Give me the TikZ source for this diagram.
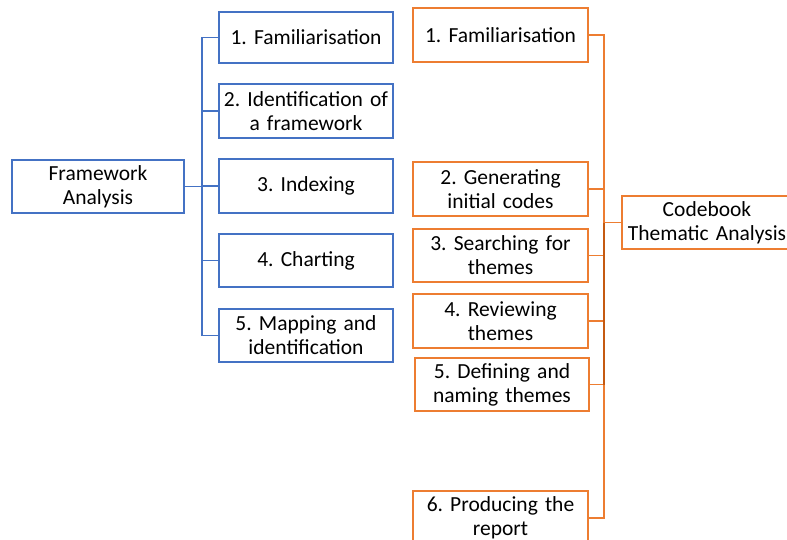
\documentclass[tikz,border=0pt]{standalone}
\usepackage{fontspec}
\setmainfont{Carlito}
\frenchspacing
\definecolor{fwblue}{HTML}{4472C4}
\definecolor{taorange}{HTML}{ED7D31}
\definecolor{tadark}{HTML}{C55A11}
\tikzset{
    fwbox/.style={draw=fwblue, line width=1.3pt, minimum width=174pt, minimum height=53pt, text width=172pt, align=center, inner sep=0pt, font=\fontsize{21.5}{24}\selectfont},
    tabox/.style={draw=taorange, line width=1.3pt, minimum width=175pt, minimum height=53pt, text width=173pt, align=center, inner sep=0pt, font=\fontsize{21.5}{24}\selectfont},
    fwline/.style={draw=fwblue, line width=1.2pt},
    taline/.style={draw=taorange, line width=1.2pt}
}

\begin{document}
\begin{tikzpicture}[x=1pt, y=-1pt]
    \pgfmathsetmacro{\fwx}{306}
    \pgfmathsetmacro{\tax}{500.5}
    \useasboundingbox (0,0) rectangle (787,539);
    % framework analysis side
    \node[fwbox, minimum width=172pt] (fw) at (98,186.5) {Framework\\Analysis};
    \node[fwbox, minimum height=51pt] (b1) at (\fwx,37.5) {1. Familiarisation};
    \node[fwbox, minimum height=54pt] (b2) at (\fwx,111) {2. Identification of\\a framework};
    \node[fwbox, minimum height=54pt] (b3) at (\fwx,186) {3. Indexing};
    \node[fwbox] (b4) at (\fwx,260.5) {4. Charting};
    \node[fwbox] (b5) at (\fwx,335.5) {5. Mapping and\\identification};
    \coordinate (bt) at (202,186.5);
    \foreach \i in {1,...,5}
        \draw[fwline] (fw.east) -- (bt) |- (b\i.west);
    % codebook thematic analysis side
    \node[tabox, minimum width=170pt, text width=170pt] (cb) at (707,222.5) {Codebook\\Thematic Analysis};
    \node[tabox, minimum height=54pt] (o1) at (\tax,35) {1. Familiarisation};
    \node[tabox, minimum height=54pt] (o2) at (\tax,189) {2. Generating\\initial codes};
    \node[tabox] (o3) at (\tax,255.5) {3. Searching for\\themes};
    \node[tabox, minimum height=54pt] (o4) at (\tax,321) {4. Reviewing\\themes};
    \node[tabox, minimum width=174pt] (o5) at (502,384.5) {5. Defining and\\naming themes};
    \node[tabox, minimum height=54pt] (o6) at (\tax,518) {6. Producing the\\report};
    \coordinate (ot) at (604,222.5);
    \foreach \i in {1,...,6}
        \draw[taline] (o\i.east) -| (ot) -- (cb.west);
    \draw[draw=tadark, line width=1.8pt] (ot) -- (ot |- o5.east);
\end{tikzpicture}
\end{document}
